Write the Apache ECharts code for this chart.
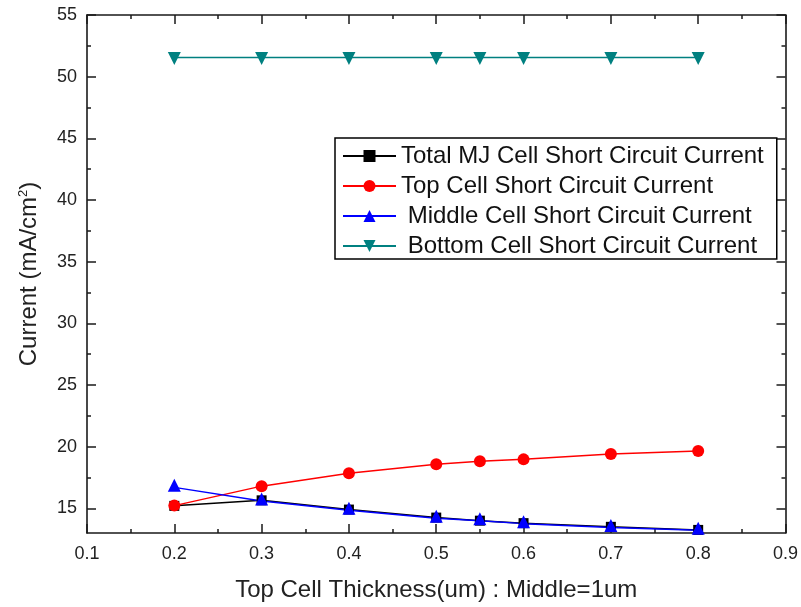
<!DOCTYPE html>
<html><head><meta charset="utf-8">
<script src="https://cdn.jsdelivr.net/npm/echarts@6/dist/echarts.min.js"></script>
<style>html,body{margin:0;padding:0;background:#fff}#c{width:801px;height:607px}</style>
</head><body><div id="c"></div>
<script>
const thickness = [0.2, 0.3, 0.4, 0.5, 0.55, 0.6, 0.7, 0.8];
const totalCurrent = [15.2, 15.65, 14.9, 14.25, 14.0, 13.8, 13.5, 13.25];
const topCurrent = [15.22, 16.8, 17.85, 18.57, 18.82, 18.97, 19.4, 19.65];
const middleCurrent = [16.7, 15.6, 14.85, 14.2, 14.0, 13.76, 13.45, 13.22];
const bottomCurrent = [51.55, 51.55, 51.55, 51.55, 51.55, 51.55, 51.55, 51.55];
const seriesNames = ['Total MJ Cell Short Circuit Current', 'Top Cell Short Circuit Current', ' Middle Cell Short Circuit Current', ' Bottom Cell Short Circuit Current'];
const xTicks = [0.1, 0.2, 0.3, 0.4, 0.5, 0.6, 0.7, 0.8, 0.9];
const xMinorTicks = [0.15, 0.25, 0.35, 0.45, 0.55, 0.65, 0.75, 0.85];
const yTicks = [15, 20, 25, 30, 35, 40, 45, 50, 55];
const yMinorTicks = [17.5, 22.5, 27.5, 32.5, 37.5, 42.5, 47.5, 52.5];
const xTitle = 'Top Cell Thickness(um) : Middle=1um';
const yTitle = 'Current (mA/cm{sup|2})';

const FONT = 'Liberation Sans';
const AX = '#1a1a1a';
const pair = arr => thickness.map((t, i) => [t, arr[i]]);

function xAx(pos, ticks, len, show, labels) {
  return {
    type: 'value', min: 0.1, max: 0.9, position: pos,
    axisLine: { show: show, lineStyle: { color: AX, width: 1.6 } },
    axisTick: { show: true, inside: true, length: len, customValues: ticks, lineStyle: { color: AX, width: 1.5 } },
    axisLabel: labels ? { show: true, customValues: ticks, margin: 12, color: '#222', fontSize: 18, fontFamily: FONT, formatter: v => v.toFixed(1) } : { show: false },
    splitLine: { show: false }
  };
}
function yAx(pos, ticks, len, show, labels) {
  return {
    type: 'value', min: 13, max: 55, position: pos,
    axisLine: { show: show, lineStyle: { color: AX, width: 1.6 } },
    axisTick: { show: true, inside: true, length: len, customValues: ticks, lineStyle: { color: AX, width: 1.5 } },
    axisLabel: labels ? { show: true, customValues: ticks, margin: 10, color: '#222', fontSize: 18, fontFamily: FONT } : { show: false },
    splitLine: { show: false }
  };
}

const xAxes = [xAx('bottom', xTicks, 9, true, true), xAx('top', xTicks, 9, true, false), xAx('bottom', xMinorTicks, 4, false, false), xAx('top', xMinorTicks, 4, false, false)];
Object.assign(xAxes[0], { name: xTitle, nameLocation: 'middle', nameGap: 45, nameTextStyle: { fontSize: 24, fontFamily: FONT, color: '#222' } });
const yAxes = [yAx('left', yTicks, 9, true, true), yAx('right', yTicks, 9, true, false), yAx('left', yMinorTicks, 4, false, false), yAx('right', yMinorTicks, 4, false, false)];
Object.assign(yAxes[0], { name: yTitle, nameLocation: 'middle', nameGap: 45, nameRotate: 90,
  nameTextStyle: { fontSize: 24, fontFamily: FONT, color: '#222', rich: { sup: { fontSize: 13, fontFamily: FONT, color: '#222', verticalAlign: 'top', padding: [0, 0, 12, 0] } } } });

const colors = ['#000000', '#ff0000', '#0000ff', '#008080'];
const symbols = ['rect', 'circle', 'triangle', 'triangle'];
const sizes = [10, 12, 13, 13];
const rot = [0, 0, 0, 180];
const offs = [[0, 0], [0, 0], [0, -2], [0, 1]];
const datas = [totalCurrent, topCurrent, middleCurrent, bottomCurrent];

const chart = echarts.init(document.getElementById('c'), null, { renderer: 'canvas' });
chart.setOption({
  animation: false,
  backgroundColor: '#fff',
  grid: { left: 87, right: 14, top: 15, bottom: 74, containLabel: false },
  xAxis: xAxes,
  yAxis: yAxes,
  legend: {
    orient: 'vertical', left: 335, top: 138,
    padding: [6, 13, 1, 7], itemGap: 6, itemWidth: 53, itemHeight: 15,
    borderColor: '#000', borderWidth: 1.5, backgroundColor: '#fff',
    textStyle: { fontSize: 24, fontFamily: FONT, color: '#111' },
    data: seriesNames
  },
  series: datas.map((d, i) => ({
    name: seriesNames[i], type: 'line', data: pair(d),
    xAxisIndex: 0, yAxisIndex: 0,
    symbol: symbols[i], symbolSize: sizes[i], symbolRotate: rot[i], symbolOffset: offs[i],
    showAllSymbol: true,
    lineStyle: { color: colors[i], width: 1.5 },
    itemStyle: { color: colors[i] }
  }))
});
</script></body></html>
